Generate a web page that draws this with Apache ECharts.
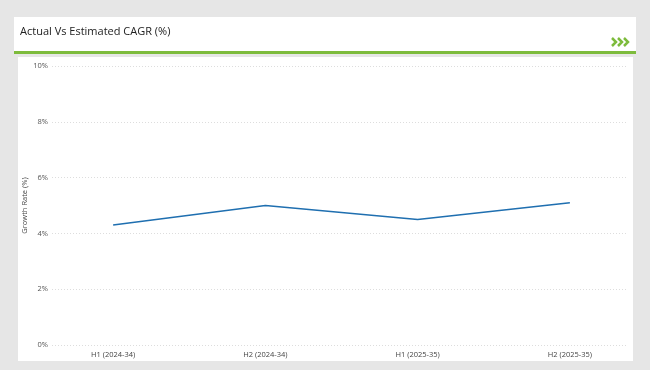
<!DOCTYPE html>
<html><head><meta charset="utf-8">
<script src="https://cdn.jsdelivr.net/npm/echarts@6/dist/echarts.min.js"></script>
<style>html,body{margin:0;padding:0;background:#e6e6e6}#c{width:650px;height:370px}</style>
</head><body><div id="c"></div>
<script>
const titleText = "Actual Vs Estimated CAGR (%)";
const categories = ["H1 (2024-34)", "H2 (2024-34)", "H1 (2025-35)", "H2 (2025-35)"];
const growthRate = [4.3, 5.0, 4.5, 5.1];
const yTicks = [0, 2, 4, 6, 8, 10];
const yAxisName = "Growth Rate (%)";

const font = "'Open Sans', sans-serif";
const chart = echarts.init(document.getElementById('c'));
chart.setOption({
  backgroundColor: '#e6e6e6',
  animation: false,
  graphic: [
    {type:'rect', shape:{x:14,y:17,width:622,height:35}, style:{fill:'#fff'}, z:-10},
    {type:'rect', shape:{x:14,y:51,width:622,height:3}, style:{fill:'#7dbb3c'}, z:-9},
    {type:'rect', shape:{x:18,y:57,width:615,height:304}, style:{fill:'#fff'}, z:-10},
    {type:'text', left:20, top:26, style:{text:titleText, font:"11px 'Open Sans', sans-serif", fill:'#222'}},
    {type:'polyline', shape:{points:[[612,38],[616,42],[612,46]]}, style:{stroke:'#7dbb3c', lineWidth:2.5, fill:null}},
    {type:'polyline', shape:{points:[[618,38],[622,42],[618,46]]}, style:{stroke:'#7dbb3c', lineWidth:2.5, fill:null}},
    {type:'polyline', shape:{points:[[624,38],[628,42],[624,46]]}, style:{stroke:'#7dbb3c', lineWidth:2.5, fill:null}}
  ],
  grid: [
    {left:52, right:23, top:66, bottom:25},
    {left:37, right:4, top:66, bottom:25}
  ],
  xAxis: [
    {gridIndex:0, type:'category', data:categories, show:false},
    {gridIndex:1, type:'category', data:categories, boundaryGap:true,
     axisLine:{show:false}, axisTick:{show:false},
     axisLabel:{color:'#444', fontSize:7.5, fontFamily:font, margin:6}}
  ],
  yAxis: [
    {gridIndex:0, type:'value', min:yTicks[0], max:yTicks[yTicks.length-1], interval:2,
     name:yAxisName, nameLocation:'middle', nameGap:23, nameMoveOverlap:false,
     nameTextStyle:{color:'#444', fontSize:7.5, fontFamily:font},
     axisLine:{show:false}, axisTick:{show:false},
     axisLabel:{color:'#555', fontSize:7.5, fontFamily:font, margin:4, formatter:v=>v+'%'},
     splitLine:{lineStyle:{color:'#ddd', type:[1,2], width:1}}},
    {gridIndex:1, type:'value', min:yTicks[0], max:yTicks[yTicks.length-1], interval:2, show:false}
  ],
  series: [{
    type:'line', xAxisIndex:1, yAxisIndex:1, data:growthRate,
    showSymbol:false, lineStyle:{color:'#1f6fb0', width:1.6}
  }]
});
</script></body></html>
